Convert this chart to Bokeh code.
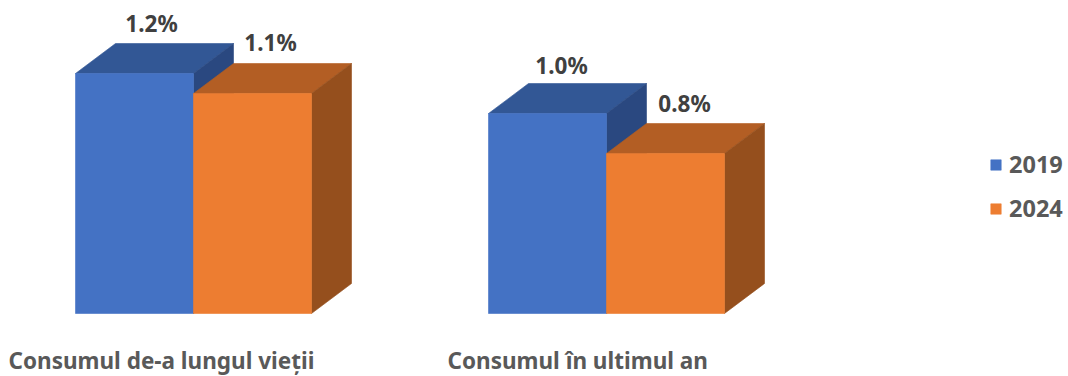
from bokeh.plotting import figure
from bokeh.models import Legend, LegendItem, Range1d
from bokeh.core.properties import value
from bokeh.embed import file_html
from bokeh.resources import INLINE

categories = ["Consumul de-a lungul vieții", "Consumul în ultimul an"]
series_names = ["2019", "2024"]
values_2019 = [1.2, 1.0]
values_2024 = [1.1, 0.8]

W, H = 1068, 376
X0_PX, UNIT_X = 193.0, 413.0   # pixel of group 0 centre, pixels per group
Y0_PX, UNIT_Y = 313.0, 200.0   # pixel of zero, pixels per 1%
BAR = 118.0 / UNIT_X
DX = 40.0 / UNIT_X
DY = 30.0 / UNIT_Y
FONT = "Noto Sans"

p = figure(width=W, height=H, output_backend="svg", toolbar_location=None,
           x_range=Range1d(-X0_PX / UNIT_X, (W - X0_PX) / UNIT_X),
           y_range=Range1d((Y0_PX - H) / UNIT_Y, Y0_PX / UNIT_Y),
           min_border=0)
p.xaxis.visible = False
p.yaxis.visible = False
p.grid.visible = False
p.outline_line_color = None
p.background_fill_color = "#FFFFFF"


def draw_series(vals, left_off, front, top, side):
    xs = [i + left_off for i in range(len(vals))]
    xr = [x + BAR for x in xs]
    top_x = [[l, r, r + DX, l + DX] for l, r in zip(xs, xr)]
    top_y = [[v, v, v + DY, v + DY] for v in vals]
    side_x = [[r, r + DX, r + DX, r] for r in xr]
    side_y = [[0, DY, v + DY, v] for v in vals]
    p.patches(top_x, top_y, fill_color=top, line_color=top, line_width=0.6)
    p.patches(side_x, side_y, fill_color=side, line_color=side, line_width=0.6)
    return p.quad(left=xs, right=xr, bottom=[0] * len(vals), top=vals,
                  fill_color=front, line_color=front, line_width=0.6)


r2019 = draw_series(values_2019, -BAR, "#4472C4", "#325795", "#2A4880")
r2024 = draw_series(values_2024, 0.0, "#ED7D31", "#B35E24", "#954F1D")

# value labels
lab_x = [i - BAR / 2 for i in range(len(values_2019))] + [i + BAR / 2 for i in range(len(values_2024))]
lab_y = list(values_2019) + list(values_2024)
lab_t = [f"{v:.1f}%" for v in lab_y]
p.text(x=lab_x, y=lab_y, text=lab_t, x_offset=[17, 14, 18, 19], y_offset=[-50, -48, -51, -50],
       text_font=value(FONT), text_font_style="bold", text_font_size="22.5px",
       text_color="#404040", text_align="center", text_baseline="alphabetic")

# category labels
cat_x = [(8 - X0_PX) / UNIT_X, (447 - X0_PX) / UNIT_X]
p.text(x=cat_x, y=[(Y0_PX - 360) / UNIT_Y] * 2, text=categories,
       text_font=value(FONT), text_font_style="bold", text_font_size="22.5px",
       text_color="#595959", text_align="left", text_baseline="alphabetic")

legend = Legend(items=[LegendItem(label=series_names[0], renderers=[r2019]),
                       LegendItem(label=series_names[1], renderers=[r2024])],
                location=(989, 152), orientation="vertical",
                border_line_color=None, background_fill_alpha=0,
                glyph_width=13, glyph_height=13, label_standoff=7,
                spacing=12, padding=8, margin=0,
                label_text_font=FONT, label_text_font_style="bold",
                label_text_font_size="23.5px", label_text_color="#595959",
                label_height=16)
p.add_layout(legend, "center")

open("out.html", "w").write(file_html(p, INLINE))
